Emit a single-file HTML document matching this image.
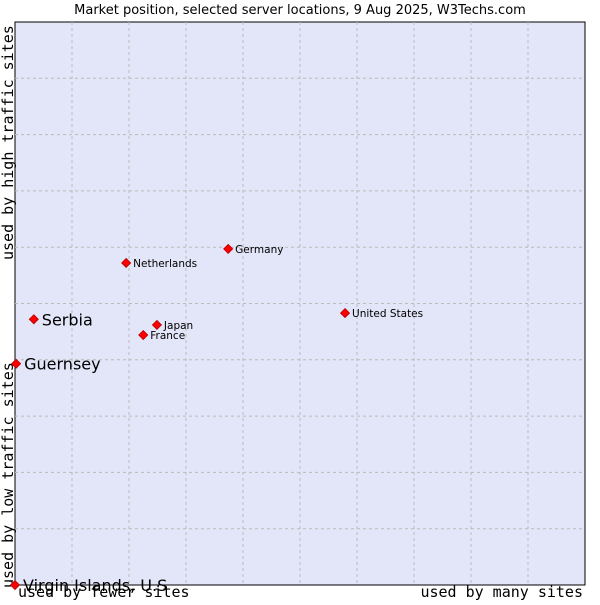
<!DOCTYPE html>
<html><head><meta charset="utf-8"><style>
body{margin:0;background:#fff;width:600px;height:600px;overflow:hidden}
svg text{font-family:"DejaVu Sans","Liberation Sans",sans-serif}
</style></head><body>
<svg id="chart" width="600" height="600" xmlns="http://www.w3.org/2000/svg">
<text x="300" y="14" text-anchor="middle" font-size="13" fill="#000">Market position, selected server locations, 9 Aug 2025, W3Techs.com</text>
<rect x="15" y="22" width="570" height="563" fill="#e3e5f8" stroke="#000" stroke-width="1"/>
<g id="grid"></g>
<text transform="translate(13,588) rotate(-90)" font-size="15" fill="#000" style="font-family:'DejaVu Sans Mono','Liberation Mono',monospace">used by low traffic sites</text>
<text transform="translate(13,260) rotate(-90)" font-size="15" fill="#000" style="font-family:'DejaVu Sans Mono','Liberation Mono',monospace">used by high traffic sites</text>
<text x="18" y="597" font-size="15" fill="#000" style="font-family:'DejaVu Sans Mono','Liberation Mono',monospace">used by fewer sites</text>
<text x="583" y="597" text-anchor="end" font-size="15" fill="#000" style="font-family:'DejaVu Sans Mono','Liberation Mono',monospace">used by many sites</text>
<g id="points"></g>
</svg>
<script>
const countries=["Virgin Islands, U.S","Guernsey","Serbia","Netherlands","Germany","Japan","France","United States"];
const xValues=[0,0.2,3.3,19.5,37.4,24.9,22.5,57.9];
const yValues=[0,39.3,47.2,57.2,59.7,46.2,44.4,48.3];
const highlighted=[true,true,true,false,false,false,false,false];
const gridTicks=[10,20,30,40,50,60,70,80,90];
const L=15,T=22,W=570,H=563,NS="http://www.w3.org/2000/svg";
const sx=v=>L+v/100*W, sy=v=>T+H-v/100*H;
const grid=document.getElementById('grid');
gridTicks.forEach(t=>{
 const v=document.createElementNS(NS,'line');
 
 
 v.setAttribute('x1',sx(t));v.setAttribute('x2',sx(t));v.setAttribute('y1',T);v.setAttribute('y2',T+H);
 v.setAttribute('stroke','#bbbbbb');v.setAttribute('stroke-dasharray','3,3');grid.appendChild(v);
 const h=document.createElementNS(NS,'line');
 
 
 h.setAttribute('x1',L);h.setAttribute('x2',L+W);h.setAttribute('y1',sy(t));h.setAttribute('y2',sy(t));
 h.setAttribute('stroke','#bbbbbb');h.setAttribute('stroke-dasharray','3,3');grid.appendChild(h);
});
const pts=document.getElementById('points');
countries.forEach((c,i)=>{
 const x=sx(xValues[i]),y=sy(yValues[i]);
 const m=document.createElementNS(NS,'polygon');
 
 
 m.setAttribute('points',`${x},${y-4.5} ${x+4.5},${y} ${x},${y+4.5} ${x-4.5},${y}`);
 m.setAttribute('fill','#ff0000');m.setAttribute('stroke','#b00000');m.setAttribute('stroke-width','0.8');
 pts.appendChild(m);
 const t=document.createElementNS(NS,'text');
 
 
 const big=highlighted[i];
 t.setAttribute('x',x+(big?8:7));t.setAttribute('y',y+(big?6:4));
 t.setAttribute('font-size',big?'16':'10.5');
 t.textContent=c;pts.appendChild(t);
});
</script>
</body></html>
